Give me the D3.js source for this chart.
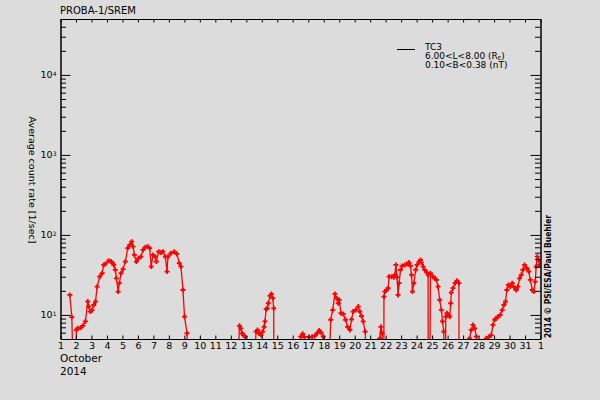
<!DOCTYPE html>
<html>
<head>
<meta charset="utf-8">
<script src="https://cdn.jsdelivr.net/npm/d3@7"></script>
<style>
  html, body { margin: 0; padding: 0; background: #dcdcdc; }
  svg { display: block; }
  text { font-family: "DejaVu Sans", sans-serif; fill: #000; }
</style>
</head>
<body>
<svg id="chart" width="600" height="400"></svg>
<script>
// ---- data (day of October 2014, average count rate [1/sec]) ----
const days = [
  1.60,1.73,1.82,1.97,2.03,2.11,2.29,2.44,2.61,2.76,2.82,2.93,3.04,3.15,3.26,3.37,3.53,3.69,3.79,3.90,
  4.11,4.27,4.37,4.44,4.54,4.61,4.72,4.80,4.91,5.04,5.19,5.34,5.47,5.60,5.69,5.77,5.90,6.05,6.20,6.33,
  6.48,6.63,6.76,6.86,6.97,7.12,7.19,7.34,7.49,7.62,7.77,7.88,7.94,8.13,8.35,8.52,8.67,8.78,8.91,9.01,
  9.17,9.25,
  12.43,12.56,12.65,12.73,12.81,12.92,12.99,
  13.50,13.63,13.72,13.81,13.95,14.06,14.15,14.21,14.28,14.36,14.42,14.53,14.62,14.71,14.77,14.78,
  16.45,16.51,16.64,16.75,16.85,17.00,17.05,17.15,17.25,17.43,17.58,17.71,17.84,17.97,18.05,
  18.35,18.45,18.58,18.72,18.83,18.94,19.00,19.11,19.26,19.41,19.54,19.69,19.80,19.90,20.06,20.23,
  20.33,20.44,20.55,20.68,20.77,
  21.58,21.62,21.69,21.77,21.82,
  21.88,21.89,21.95,22.06,22.16,22.22,22.38,22.53,22.59,22.66,22.74,22.80,22.87,22.96,23.06,23.24,
  23.38,23.51,23.60,23.67,23.73,23.82,23.94,24.03,24.16,24.25,24.31,24.42,24.52,24.67,24.74,24.75,
  24.86,24.89,25.06,25.17,25.28,25.38,25.49,25.60,25.67,25.75,25.81,
  25.86,25.88,25.96,26.05,26.14,26.20,26.24,26.35,26.48,26.61,26.73,26.74,
  27.38,27.42,27.53,27.64,27.75,27.86,27.92,
  28.45,28.50,28.67,28.82,28.93,29.04,29.15,29.25,29.40,29.53,29.64,29.74,29.83,29.92,30.05,30.18,
  30.28,30.43,30.54,30.65,30.76,30.86,30.97,31.12,31.25,31.34,31.47,31.57,31.66,31.72,31.79,31.87,
  31.94,31.98
];
const counts = [
  17.8,9.4,2,2,6.5,6.8,6.9,7.3,8.3,14.7,12.7,11.0,11.5,13.3,14.7,22.6,30.1,33.2,42.2,43.4,
  47.7,46.4,44.3,42.2,36.5,28.7,19.6,24.9,33.2,37.3,46.4,68.2,75.0,82.4,71.4,56.2,46.4,51.2,53.5,64.9,
  70.2,71.4,68.2,40.2,56.2,53.5,46.4,61.8,60.1,61.8,53.5,34.8,53.5,59.0,61.8,57.9,44.3,40.2,20.5,9.5,
  5.9,2,
  2,7.3,6.8,5.9,5.6,5.35,2,
  2,6.2,6.5,5.9,5.6,6.2,7.1,8.3,11.8,12.1,14.0,17.3,18.3,16.2,12.1,2,
  2,5.35,5.8,5.3,2,2,5.3,2,5.35,5.46,5.9,6.4,6.0,5.35,2,
  2,8.7,11.5,18.3,16.2,14.0,15.4,10.5,10.3,8.7,7.1,6.5,8.8,11.0,11.5,12.7,
  11.0,9.7,8.3,6.2,2,
  2,5.1,7.1,5.9,2,
  2,16.9,19.6,20.5,21.6,30.1,30.1,29.6,31.6,42.2,29.6,17.8,24.9,36.5,41.0,42.2,
  43.4,45.1,41.0,31.6,19.6,24.9,36.5,42.2,46.4,48.7,45.1,40.2,36.5,33.8,31.6,2,
  2,33.2,30.1,28.7,27.4,22.6,15.4,11.5,8.3,6.2,2,
  2,9.5,10.5,10.0,9.5,14.0,19.0,21.6,24.9,26.8,24.9,2,
  2,5.1,6.5,7.5,6.8,5.35,2,
  2,5.1,5.3,5.6,7.5,8.7,9.1,9.5,10.0,11.5,13.3,14.7,20.5,23.7,22.6,24.9,
  22.2,20.5,22.6,28.7,31.6,36.5,42.2,38.3,34.8,27.4,20.5,19.6,26.1,40.2,53.5,48.7,
  42.2,46.4
];
const dayTicks = d3.range(1, 33);              // Oct 1 .. Nov 1
const dayLabels = dayTicks.map(d => d === 32 ? "1" : String(d));
const majorExps = [1, 2, 3, 4];
const titleText = "PROBA-1/SREM";
const yTitle = "Average count rate [1/sec]";
const monthLabel = "October";
const yearLabel = "2014";
const creditText = "2014 \u00A9 PSI/ESA/Paul Buehler";
const legendName = "TC3";

// ---- layout ----
const W = 600, H = 400;
const L = 60.5, R = 540.5, T = 19, B = 339;
const svg = d3.select("#chart");
svg.append("rect").attr("width", W).attr("height", H).attr("fill", "#dcdcdc");

const x = d3.scaleLinear().domain([1, 32]).range([L, R]);
const y = d3.scaleLog().domain([5, 50000]).range([B, T]);

const majorVals = majorExps.map(e => Math.pow(10, e));
const minorVals = [];
for (let e = 0; e <= 4; e++) for (let m = 2; m <= 9; m++) {
  const v = m * Math.pow(10, e);
  if (v > 5 && v < 50000) minorVals.push(v);
}

const data = days.map((d, i) => ({ d, v: counts[i] }));

// clip
svg.append("clipPath").attr("id", "clip").append("rect")
  .attr("x", L).attr("y", T).attr("width", R - L).attr("height", B - T);

const plot = svg.append("g").attr("clip-path", "url(#clip)");
const line = d3.line().x(p => x(p.d)).y(p => y(p.v));
plot.append("path").datum(data).attr("d", line)
  .attr("fill", "none").attr("stroke", "#ff0000").attr("stroke-width", 1.3);
plot.selectAll("path.mk").data(data.filter(p => p.v >= 5)).join("path")
  .attr("class", "mk")
  .attr("d", p => `M${x(p.d) - 2.5},${y(p.v)}h5M${x(p.d)},${y(p.v) - 2.5}v5`)
  .attr("stroke", "#ff0000").attr("stroke-width", 1.8).attr("fill", "none");

// axes
function styleAxis(g) {
  g.select(".domain").attr("stroke", "#000").attr("stroke-width", 1);
  g.selectAll(".tick line").attr("stroke", "#000").attr("stroke-width", 1);
  g.selectAll("text").style("font-family", "DejaVu Sans").attr("fill", "#000");
}
svg.append("g").attr("transform", `translate(0,${B})`)
  .call(d3.axisBottom(x).tickValues(dayTicks).tickFormat((d, i) => dayLabels[i])
    .tickSizeInner(-3.5).tickSizeOuter(0).tickPadding(3.5))
  .call(styleAxis)
  .call(g => g.selectAll("text").style("font-size", "9.5px"));
svg.append("g").attr("transform", `translate(0,${T})`)
  .call(d3.axisTop(x).tickValues(dayTicks).tickFormat("").tickSizeInner(-3.5).tickSizeOuter(0))
  .call(styleAxis);

const yl = svg.append("g").attr("transform", `translate(${L},0)`)
  .call(d3.axisLeft(y).tickValues(majorVals).tickFormat("").tickSizeInner(-10).tickSizeOuter(0).tickPadding(4))
  .call(styleAxis);
yl.selectAll(".tick").append("text")
  .attr("x", -4).attr("dy", "0.32em").attr("text-anchor", "end")
  .style("font-size", "9.5px")
  .each(function(d) {
    const t = d3.select(this);
    t.append("tspan").text("10");
    t.append("tspan").attr("dy", "-0.45em").style("font-size", "6px").text(String(Math.round(Math.log10(d))));
  });
svg.append("g").attr("transform", `translate(${L},0)`)
  .call(d3.axisLeft(y).tickValues(minorVals).tickFormat("").tickSizeInner(-5.5).tickSizeOuter(0))
  .call(styleAxis);
svg.append("g").attr("transform", `translate(${R},0)`)
  .call(d3.axisRight(y).tickValues(majorVals).tickFormat("").tickSizeInner(-10).tickSizeOuter(0))
  .call(styleAxis);
svg.append("g").attr("transform", `translate(${R},0)`)
  .call(d3.axisRight(y).tickValues(minorVals).tickFormat("").tickSizeInner(-5.5).tickSizeOuter(0))
  .call(styleAxis);

// texts
svg.append("text").attr("x", 60).attr("y", 14).style("font-size", "10px").text(titleText);
svg.append("text").attr("x", 60).attr("y", 362).style("font-size", "10.5px").text(monthLabel);
svg.append("text").attr("x", 60).attr("y", 375).style("font-size", "10.5px").text(yearLabel);
svg.append("text").attr("transform", `translate(29,180) rotate(90)`)
  .attr("text-anchor", "middle").style("font-size", "9.5px").text(yTitle);
svg.append("text").attr("transform", `translate(551,338) rotate(-90)`)
  .attr("text-anchor", "start").style("font-size", "9px").style("font-weight", "bold")
  .attr("textLength", 123).attr("lengthAdjust", "spacingAndGlyphs").text(creditText);

// legend
const lg = svg.append("g");
lg.append("line").attr("x1", 397).attr("x2", 415).attr("y1", 49.5).attr("y2", 49.5)
  .attr("stroke", "#000").attr("stroke-width", 1);
lg.append("text").attr("x", 425).attr("y", 50).style("font-size", "9px").text(legendName);
const l2 = lg.append("text").attr("x", 425).attr("y", 58.5).style("font-size", "9px");
l2.append("tspan").text("6.00<L<8.00 (R");
l2.append("tspan").attr("dy", "1").style("font-size", "5.5px").text("E");
l2.append("tspan").attr("dy", "-1").text(")");
lg.append("text").attr("x", 425).attr("y", 67.5).style("font-size", "9px").text("0.10<B<0.38 (nT)");
</script>
</body>
</html>
